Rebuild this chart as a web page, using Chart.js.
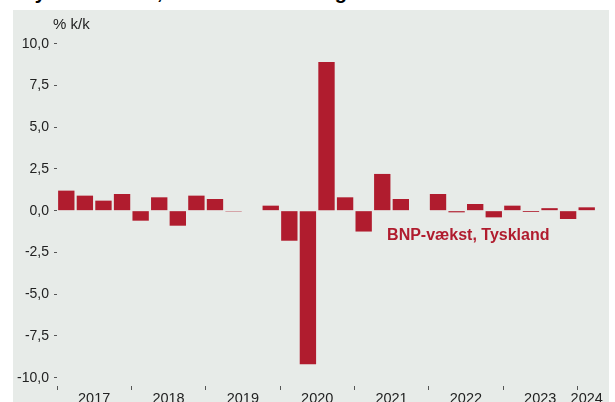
<!DOCTYPE html>
<html>
<head>
<meta charset="utf-8">
<script src="https://cdn.jsdelivr.net/npm/chart.js@4.4.0/dist/chart.umd.min.js"></script>
<style>
  body { margin: 0; background: #fff; width: 615px; height: 402px; overflow: hidden; position: relative; font-family: "Liberation Sans", Arial, sans-serif; }
  #title { position: absolute; left: 24px; top: -20px; font-size: 20px; line-height: 24px; font-weight: bold; color: #000; white-space: nowrap; }
  #panel { position: absolute; left: 13px; top: 10px; width: 596px; height: 392px; background: #e7ebe8; }
</style>
</head>
<body>
<div id="title">Tysk økonomi, stillestående i lang tid</div>
<div id="panel"><canvas id="gdpChart" width="596" height="392"></canvas></div>
<script>
// kvartaler 2017K1 - 2024K1
var quarters = ["2017K1","2017K2","2017K3","2017K4","2018K1","2018K2","2018K3","2018K4",
                "2019K1","2019K2","2019K3","2019K4","2020K1","2020K2","2020K3","2020K4",
                "2021K1","2021K2","2021K3","2021K4","2022K1","2022K2","2022K3","2022K4",
                "2023K1","2023K2","2023K3","2023K4","2024K1"];
// BNP-vaekst, % k/k
var growth = [1.2, 0.9, 0.6, 1.0, -0.6, 0.8, -0.9, 0.9,
              0.7, -0.05, -0.03, 0.3, -1.8, -9.2, 8.9, 0.8,
              -1.25, 2.2, 0.7, 0.03, 1.0, -0.1, 0.4, -0.4,
              0.3, -0.08, 0.15, -0.5, 0.2];
var years = ["2017","2018","2019","2020","2021","2022","2023","2024"];
var yTicks = [10, 7.5, 5, 2.5, 0, -2.5, -5, -7.5, -10];
var seriesName = "BNP-vækst, Tyskland";
var unitLabel = "% k/k";

var red = "#b01c2e";
var last = quarters.length - 1;
var fmt = function (v) { return v.toFixed(1).replace(".", ","); };

// year boundaries get a tick mark, year middles get the label
var yearTickVals = [];
years.forEach(function (y, i) {
  yearTickVals.push({ value: i * 4 - 0.5, kind: "mark" });
  yearTickVals.push({ value: Math.min(i * 4 + 1.5, last), kind: "label", text: y });
});

var textPlugin = {
  id: "texts",
  afterDraw: function (chart) {
    var ctx = chart.ctx, area = chart.chartArea;
    var xs = chart.scales.x2, ys = chart.scales.y;
    ctx.save();
    ctx.fillStyle = "#222";
    ctx.font = "15px 'Liberation Sans', Arial";
    ctx.textBaseline = "middle";
    ctx.textAlign = "left";
    ctx.fillText(unitLabel, area.left - 4, 15);
    ctx.fillStyle = red;
    ctx.font = "bold 16px 'Liberation Sans', Arial";
    ctx.fillText(seriesName, xs.getPixelForValue(17.26), ys.getPixelForValue(-1.48));
    ctx.restore();
  }
};

new Chart("gdpChart", {
  type: "bar",
  data: {
    labels: quarters,
    datasets: [{
      data: growth,
      backgroundColor: red,
      borderWidth: 0,
      barPercentage: 0.88,
      categoryPercentage: 1.0
    }]
  },
  options: {
    responsive: false,
    animation: false,
    devicePixelRatio: 1,
    layout: { padding: { top: 22, right: 13, left: 0, bottom: 0 } },
    plugins: { legend: { display: false }, tooltip: { enabled: false } },
    scales: {
      x: { display: false },
      x2: {
        type: "linear",
        position: "bottom",
        offset: false,
        min: -0.5,
        max: last + 0.5,
        border: { display: false },
        grid: {
          offset: false,
          drawOnChartArea: false,
          drawTicks: true,
          tickLength: 4,
          tickColor: function (c) { return c.tick && c.tick.kind === "mark" ? "#555" : "rgba(0,0,0,0)"; }
        },
        afterBuildTicks: function (s) { s.ticks = yearTickVals.map(function (t) { return Object.assign({}, t); }); },
        afterFit: function (s) { s.height = 16; },
        ticks: {
          autoSkip: false,
          maxRotation: 0,
          padding: 0,
          color: "#222",
          font: { family: "'Liberation Sans', Arial", size: 14.5 },
          callback: function (v, i, ticks) { return ticks[i].kind === "label" ? ticks[i].text : ""; }
        }
      },
      y: {
        min: -10.5,
        max: 10.7,
        border: { display: false },
        grid: { drawOnChartArea: false, drawTicks: true, tickLength: 3, tickColor: "#555" },
        afterBuildTicks: function (s) { s.ticks = yTicks.map(function (v) { return { value: v }; }); },
        afterFit: function (s) { s.width = 44; },
        ticks: {
          padding: 5,
          color: "#222",
          font: { family: "'Liberation Sans', Arial", size: 14 },
          callback: function (v) { return fmt(v); }
        }
      }
    }
  },
  plugins: [textPlugin]
});
</script>
</body>
</html>
